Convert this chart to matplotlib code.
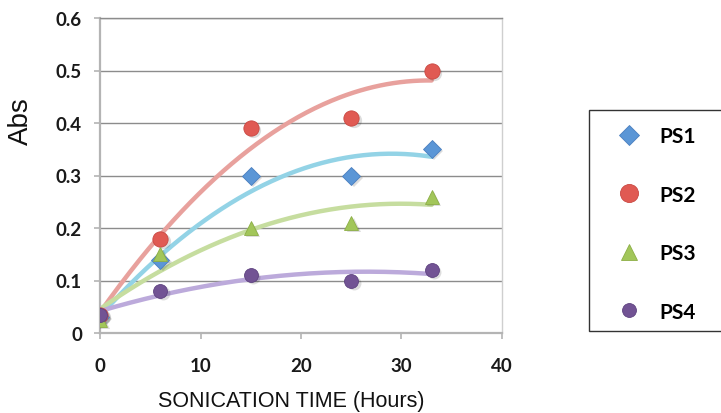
import numpy as np
import matplotlib
matplotlib.use("Agg")
import matplotlib.pyplot as plt
from matplotlib.patches import Rectangle
from matplotlib.lines import Line2D

# ---- data ----
hours = [0, 6, 15, 25, 33]
ps1 = [0.030, 0.140, 0.300, 0.300, 0.350]
ps2 = [0.035, 0.180, 0.390, 0.410, 0.500]
ps3 = [0.025, 0.150, 0.200, 0.210, 0.260]
ps4 = [0.035, 0.080, 0.110, 0.100, 0.120]
series_names = ["PS1", "PS2", "PS3", "PS4"]
x_ticks = [0, 10, 20, 30, 40]
y_ticks = [0, 0.1, 0.2, 0.3, 0.4, 0.5, 0.6]
y_tick_labels = ["0", "0.1", "0.2", "0.3", "0.4", "0.5", "0.6"]

series = [ps1, ps2, ps3, ps4]
marker_colors = ["#5b96d6", "#e05a53", "#a2c65a", "#725394"]
edge_colors = ["#4a7fbf", "#c94842", "#8cae45", "#5e4280"]
trend_colors = ["#93d3e6", "#e8a19d", "#c6dd9f", "#bcaadb"]
markers = ["D", "o", "^", "o"]
msizes = [9, 11, 10.5, 10]
leg_sizes = [10.5, 13, 12, 10]

fig = plt.figure(figsize=(7.21, 4.14), dpi=100)
ax = fig.add_axes([100 / 721, 1 - 334 / 414, 402 / 721, 315 / 414])

xs = np.linspace(hours[0], hours[-1], 200)
for vals, tc in zip(series, trend_colors):
    coef = np.polyfit(hours, vals, 2)
    ax.plot(xs, np.polyval(coef, xs), color=tc, lw=3.2, zorder=2,
            solid_capstyle="round")

handles = []
for vals, mc, ec, mk, ms, name, ls in zip(series, marker_colors, edge_colors,
                                          markers, msizes, series_names, leg_sizes):
    # soft shadow
    ax.plot(np.array(hours) + 0.25, np.array(vals) - 0.004, linestyle="none",
            marker=mk, markersize=ms, color="#00000022", markeredgewidth=0,
            zorder=3)
    ax.plot(hours, vals, linestyle="none", marker=mk, markersize=ms,
            markerfacecolor=mc, markeredgecolor=ec, markeredgewidth=0.6,
            zorder=4)
    handles.append(Line2D([], [], linestyle="none", marker=mk, markersize=ls,
                          markerfacecolor=mc, markeredgecolor=ec,
                          markeredgewidth=0.6, label=name))

ax.set_xlim(0, 40)
ax.set_ylim(0, 0.6)
ax.set_xticks(x_ticks)
ax.set_yticks(y_ticks)
ax.set_yticklabels(y_tick_labels)

ax.yaxis.grid(True, color="#8c8c8c", lw=1.0, zorder=1)
ax.set_axisbelow(True)
for s in ["left", "bottom"]:
    ax.spines[s].set_color("#b4b4b4")
    ax.spines[s].set_linewidth(1.6)
ax.spines["right"].set_color("#cfcfcf")
ax.spines["right"].set_linewidth(1.0)
ax.spines["top"].set_color("#8c8c8c")
ax.spines["top"].set_linewidth(1.0)

ax.tick_params(axis="both", direction="out", length=4, width=1.2,
               color="#b4b4b4")
ax.tick_params(axis="y", pad=9)
ax.tick_params(axis="x", pad=13)
for lab in ax.get_xticklabels() + ax.get_yticklabels():
    lab.set_fontfamily("Lato")
    lab.set_fontweight("bold")
    lab.set_fontsize(13.5)
    lab.set_color("#1a1a1a")

fig.text(21 / 721, 1 - 121 / 414, "Abs", rotation=90, ha="center", va="center",
         fontsize=20, family="Liberation Sans", color="#111111")
fig.text(291 / 721, 1 - 402 / 414, "SONICATION TIME (Hours)", ha="center",
         va="center", fontsize=15.5, family="Liberation Sans", color="#111111")

# legend box (extends past right edge as in reference)
fig.patches.append(Rectangle((589 / 721, 1 - 332 / 414), 200 / 721, 221 / 414,
                             transform=fig.transFigure, facecolor="white",
                             edgecolor="#333333", lw=1.0, zorder=0))
leg = fig.legend(handles=handles, loc="upper left",
                 bbox_to_anchor=(616 / 721, 1 - 127 / 414), frameon=False,
                 prop={"family": "Lato", "weight": "bold", "size": 15},
                 labelspacing=1.85, handletextpad=0.9, handlelength=1.2,
                 borderaxespad=0, borderpad=0)

fig.savefig("out.png", dpi=100)
